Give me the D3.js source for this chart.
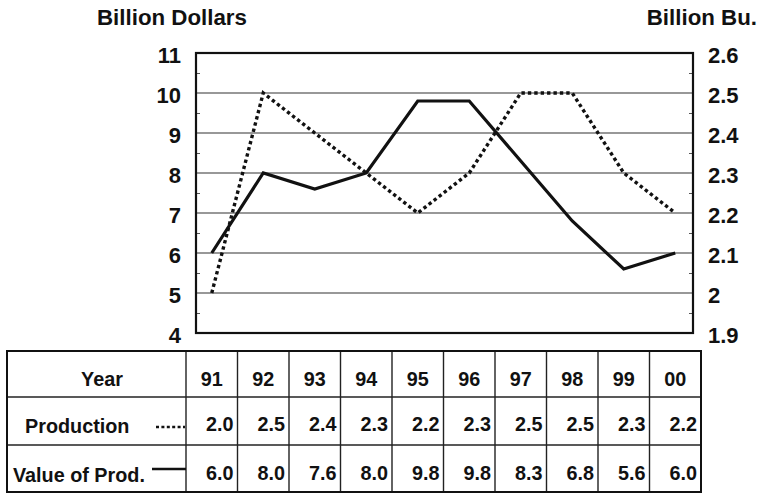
<!DOCTYPE html>
<html>
<head>
<meta charset="utf-8">
<script src="https://cdn.jsdelivr.net/npm/d3@7"></script>
<style>
  html, body { margin: 0; padding: 0; background: #fff; }
  svg { display: block; }
  text { font-family: "Liberation Sans", Arial, Helvetica, sans-serif; font-weight: bold; fill: #111; }
</style>
</head>
<body>
<script>
// ---- Data ----
const years = ["91", "92", "93", "94", "95", "96", "97", "98", "99", "00"];
const production = [2.0, 2.5, 2.4, 2.3, 2.2, 2.3, 2.5, 2.5, 2.3, 2.2];      // Billion Bu.
const valueOfProd = [6.0, 8.0, 7.6, 8.0, 9.8, 9.8, 8.3, 6.8, 5.6, 6.0];     // Billion Dollars
const leftTicks = [4, 5, 6, 7, 8, 9, 10, 11];
const rightTicks = [1.9, 2.0, 2.1, 2.2, 2.3, 2.4, 2.5, 2.6];
const rightTickLabels = ["1.9", "2", "2.1", "2.2", "2.3", "2.4", "2.5", "2.6"];
const leftTitle = "Billion Dollars";
const rightTitle = "Billion Bu.";
const rowLabels = ["Year", "Production", "Value of Prod."];

// ---- Layout ----
const W = 759, H = 493;
const plot = { left: 196, right: 693, top: 53, bottom: 333 };
const table = { left: 7, firstColRight: 186, right: 701, rows: [351, 397, 445, 492] };
const TF = 19.8;   // table font size
const AF = 22;     // axis font size

const svg = d3.select("body").append("svg").attr("width", W).attr("height", H);
svg.append("rect").attr("width", W).attr("height", H).attr("fill", "#fff");

const x = d3.scaleBand().domain(years).range([table.firstColRight, table.right]).padding(0);
const xc = d => x(d) + x.bandwidth() / 2;
const yL = d3.scaleLinear().domain([4, 11]).range([plot.bottom, plot.top]);
const yR = d3.scaleLinear().domain([1.9, 2.6]).range([plot.bottom, plot.top]);

// Gridlines
svg.append("g").selectAll("line").data(leftTicks.slice(1, -1)).join("line")
  .attr("x1", plot.left).attr("x2", plot.right)
  .attr("y1", d => yL(d)).attr("y2", d => yL(d))
  .attr("stroke", "#333").attr("stroke-width", 1.2);

// Minor ticks (inside)
const minor = d3.range(4.5, 11, 1);
svg.append("g").attr("transform", `translate(${plot.left},0)`)
  .call(d3.axisRight(yL).tickValues(minor).tickSize(4).tickFormat(""))
  .call(g => g.select(".domain").remove())
  .call(g => g.selectAll("line").attr("stroke", "#555").attr("stroke-width", 1));
svg.append("g").attr("transform", `translate(${plot.right},0)`)
  .call(d3.axisLeft(yL).tickValues(minor).tickSize(4).tickFormat(""))
  .call(g => g.select(".domain").remove())
  .call(g => g.selectAll("line").attr("stroke", "#555").attr("stroke-width", 1));

// Frame
svg.append("rect")
  .attr("x", plot.left).attr("y", plot.top)
  .attr("width", plot.right - plot.left).attr("height", plot.bottom - plot.top)
  .attr("fill", "none").attr("stroke", "#111").attr("stroke-width", 2.2);

// Left axis labels
svg.append("g").attr("transform", `translate(${plot.left},0)`)
  .call(d3.axisLeft(yL).tickValues(leftTicks).tickSize(0).tickPadding(15).tickFormat(d3.format("d")))
  .call(g => g.select(".domain").remove())
  .call(g => g.selectAll("text").attr("font-size", AF).attr("font-family", "Liberation Sans, Arial, sans-serif")
      .attr("font-weight", "bold").attr("fill", "#111").attr("dy", "0.45em"));

// Right axis labels
svg.append("g").attr("transform", `translate(${plot.right},0)`)
  .call(d3.axisRight(yR).tickValues(rightTicks).tickSize(0).tickPadding(15).tickFormat((d, i) => rightTickLabels[i]))
  .call(g => g.select(".domain").remove())
  .call(g => g.selectAll("text").attr("font-size", AF).attr("font-family", "Liberation Sans, Arial, sans-serif")
      .attr("font-weight", "bold").attr("fill", "#111").attr("dy", "0.45em"));

// Titles
svg.append("text").attr("x", 97).attr("y", 25).attr("font-size", 22.3).text(leftTitle);
svg.append("text").attr("x", 757).attr("y", 25).attr("text-anchor", "end").attr("font-size", 22.3).text(rightTitle);

// Lines
const prodLine = d3.line().x((d, i) => xc(years[i])).y(d => yR(d));
const valLine = d3.line().x((d, i) => xc(years[i])).y(d => yL(d));

svg.append("path").datum(production).attr("d", prodLine)
  .attr("fill", "none").attr("stroke", "#111").attr("stroke-width", 3.4)
  .attr("stroke-dasharray", "3.4,3").attr("stroke-linejoin", "miter");
svg.append("path").datum(valueOfProd).attr("d", valLine)
  .attr("fill", "none").attr("stroke", "#111").attr("stroke-width", 3.2)
  .attr("stroke-linejoin", "miter");

// ---- Table ----
const tg = svg.append("g");
tg.selectAll("line.h").data(table.rows.slice(1, -1)).join("line").attr("class", "h")
  .attr("x1", table.left).attr("x2", table.right).attr("y1", d => d).attr("y2", d => d)
  .attr("stroke", "#222").attr("stroke-width", 1.4);
tg.selectAll("line.v").data(years.slice(1)).join("line").attr("class", "v")
  .attr("x1", d => x(d)).attr("x2", d => x(d))
  .attr("y1", table.rows[0]).attr("y2", table.rows[3])
  .attr("stroke", "#222").attr("stroke-width", 1.4);
tg.append("line").attr("x1", table.firstColRight).attr("x2", table.firstColRight)
  .attr("y1", table.rows[0]).attr("y2", table.rows[3]).attr("stroke", "#222").attr("stroke-width", 1.4);
tg.append("rect").attr("x", table.left).attr("y", table.rows[0])
  .attr("width", table.right - table.left).attr("height", table.rows[3] - table.rows[0])
  .attr("fill", "none").attr("stroke", "#111").attr("stroke-width", 2);

// row labels
tg.append("text").attr("x", 102).attr("y", 386).attr("text-anchor", "middle").attr("font-size", TF).text(rowLabels[0]);
tg.append("text").attr("x", 25).attr("y", 433).attr("font-size", TF).text(rowLabels[1]);
tg.append("text").attr("x", 13).attr("y", 482).attr("font-size", TF).text(rowLabels[2]);

// legend samples
tg.append("line").attr("x1", 156).attr("x2", 185).attr("y1", 427).attr("y2", 427)
  .attr("stroke", "#111").attr("stroke-width", 2.6).attr("stroke-dasharray", "3,2.4");
tg.append("line").attr("x1", 152).attr("x2", 186).attr("y1", 469).attr("y2", 469)
  .attr("stroke", "#111").attr("stroke-width", 2.6);

// year row
tg.selectAll("text.yr").data(years).join("text").attr("class", "yr")
  .attr("x", d => xc(d)).attr("y", 386).attr("text-anchor", "middle").attr("font-size", TF).text(d => d);
// production row
tg.selectAll("text.pr").data(production).join("text").attr("class", "pr")
  .attr("x", (d, i) => x(years[i]) + x.bandwidth() - 4).attr("y", 431)
  .attr("text-anchor", "end").attr("font-size", TF).text(d => d.toFixed(1));
// value row
tg.selectAll("text.vp").data(valueOfProd).join("text").attr("class", "vp")
  .attr("x", (d, i) => x(years[i]) + x.bandwidth() - 4).attr("y", 480)
  .attr("text-anchor", "end").attr("font-size", TF).text(d => d.toFixed(1));
</script>
</body>
</html>
